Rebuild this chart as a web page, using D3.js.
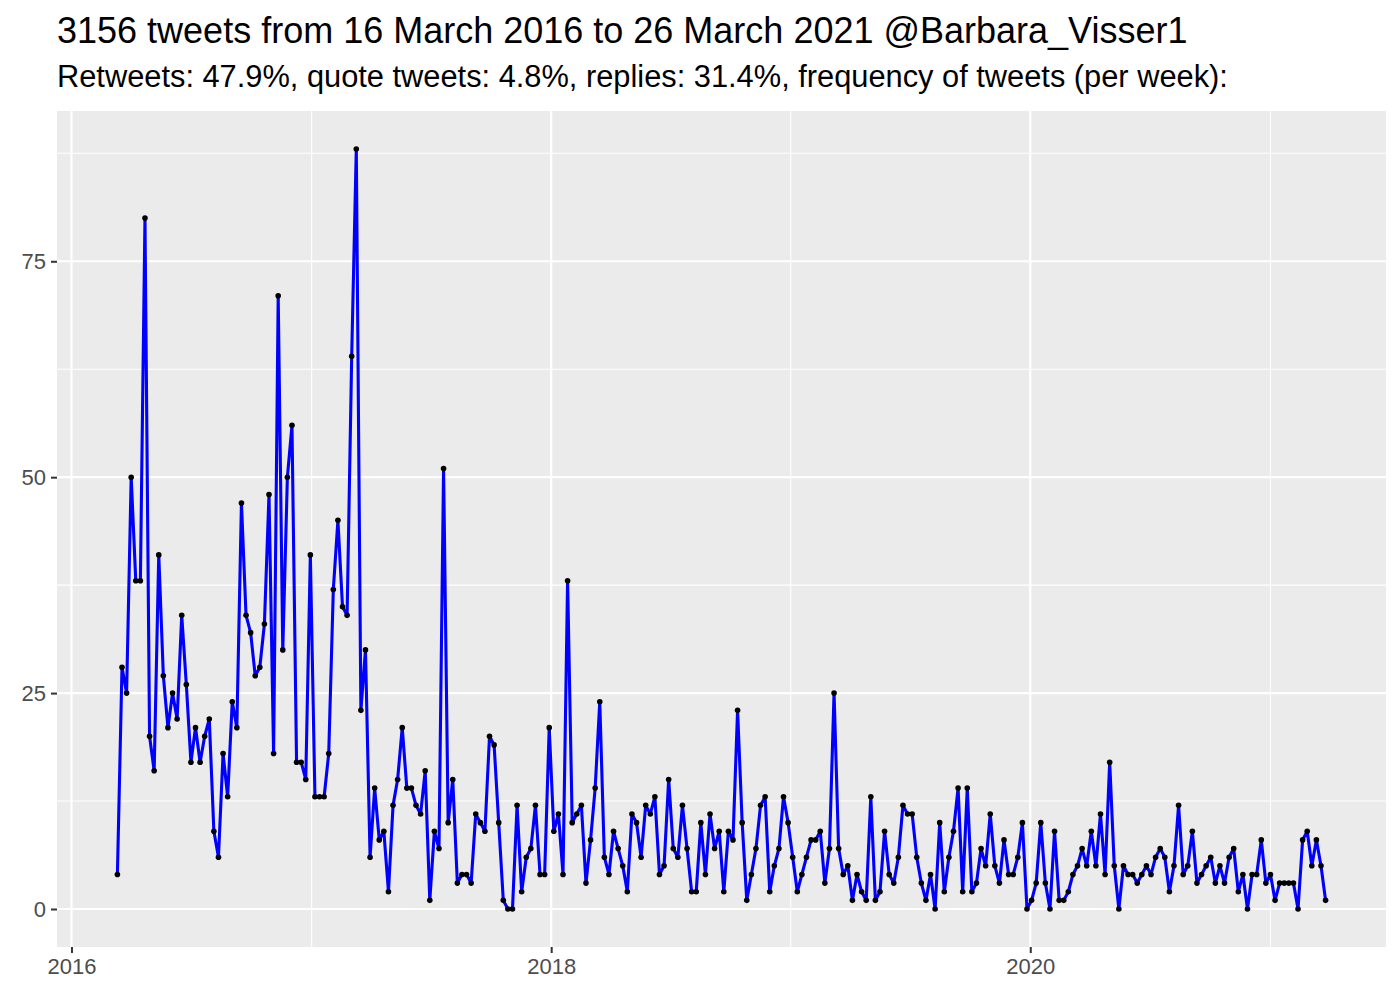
<!DOCTYPE html>
<html>
<head>
<meta charset="utf-8">
<script src="https://cdn.jsdelivr.net/npm/d3@7"></script>
<style>
  html, body { margin: 0; padding: 0; background: #ffffff; }
  svg { display: block; }
  text { font-family: "Liberation Sans", Arial, Helvetica, sans-serif; }
</style>
</head>
<body>
<svg id="chart" width="1400" height="1000"></svg>
<script>
// ---- data ----
const titleText = "3156 tweets from 16 March 2016 to 26 March 2021 @Barbara_Visser1";
const subtitleText = "Retweets: 47.9%, quote tweets: 4.8%, replies: 31.4%, frequency of tweets (per week):";

// first weekly bin and bin length in days
const firstWeek = "2016-03-11";
const binDays = 7;

// tweets per week (264 weekly bins)
const weeklyCounts = [
  4,28,25,50,38,38,80,20,16,41,
  27,21,25,22,34,26,17,21,17,20,
  22,9,6,18,13,24,21,47,34,32,
  27,28,33,48,18,71,30,50,56,17,
  17,15,41,13,13,13,18,37,45,35,
  34,64,88,23,30,6,14,8,9,2,
  12,15,21,14,14,12,11,16,1,9,
  7,51,10,15,3,4,4,3,11,10,
  9,20,19,10,1,0,0,12,2,6,
  7,12,4,4,21,9,11,4,38,10,
  11,12,3,8,14,24,6,4,9,7,
  5,2,11,10,6,12,11,13,4,5,
  15,7,6,12,7,2,2,10,4,11,
  7,9,2,9,8,23,10,1,4,7,
  12,13,2,5,7,13,10,6,2,4,
  6,8,8,9,3,7,25,7,4,5,
  1,4,2,1,13,1,2,9,4,3,
  6,12,11,11,6,3,1,4,0,10,
  2,6,9,14,2,14,2,3,7,5,
  11,5,3,8,4,4,6,10,0,1,
  3,10,3,0,9,1,1,2,4,5,
  7,5,9,5,11,4,17,5,0,5,
  4,4,3,4,5,4,6,7,6,2,
  5,12,4,5,9,3,4,5,6,3,
  5,3,6,7,2,4,0,4,4,8,
  3,4,1,3,3,3,3,0,8,9,
  5,8,5,1
];

const yMajorTicks = [0, 25, 50, 75];
const yMinorTicks = [12.5, 37.5, 62.5, 87.5];
const xMajorYears = [2016, 2018, 2020];
const xMinorYears = [2017, 2019, 2021];

// ---- build table ----
const start = d3.utcParse("%Y-%m-%d")(firstWeek);
const data = weeklyCounts.map((v, i) => ({ date: d3.utcDay.offset(start, i * binDays), n: v }));

// ---- layout ----
const panel = { left: 57, right: 1386, top: 111, bottom: 947 };
const svg = d3.select("#chart");

function expand(ext, f) { const d = ext[1] - ext[0]; return [ext[0] - d * f, ext[1] + d * f]; }

const xExt = d3.extent(data, d => +d.date);
const xDom = expand(xExt, 0.05).map(t => new Date(t));
const x = d3.scaleUtc().domain(xDom).range([panel.left, panel.right]);

const yExt = [0, d3.max(data, d => d.n)];
const y = d3.scaleLinear().domain(expand(yExt, 0.05)).range([panel.bottom, panel.top]);

const yearDate = yr => new Date(Date.UTC(yr, 0, 1));

// panel background
svg.append("rect")
  .attr("x", panel.left).attr("y", panel.top)
  .attr("width", panel.right - panel.left).attr("height", panel.bottom - panel.top)
  .attr("fill", "#ebebeb");

const grid = svg.append("g");
// minor grid
grid.selectAll("line.ymin").data(yMinorTicks).join("line")
  .attr("x1", panel.left).attr("x2", panel.right)
  .attr("y1", d => y(d)).attr("y2", d => y(d))
  .attr("stroke", "#ffffff").attr("stroke-width", 1.1);
grid.selectAll("line.xmin").data(xMinorYears).join("line")
  .attr("y1", panel.top).attr("y2", panel.bottom)
  .attr("x1", d => x(yearDate(d))).attr("x2", d => x(yearDate(d)))
  .attr("stroke", "#ffffff").attr("stroke-width", 1.1);
// major grid
grid.selectAll("line.ymaj").data(yMajorTicks).join("line")
  .attr("x1", panel.left).attr("x2", panel.right)
  .attr("y1", d => y(d)).attr("y2", d => y(d))
  .attr("stroke", "#ffffff").attr("stroke-width", 2.2);
grid.selectAll("line.xmaj").data(xMajorYears).join("line")
  .attr("y1", panel.top).attr("y2", panel.bottom)
  .attr("x1", d => x(yearDate(d))).attr("x2", d => x(yearDate(d)))
  .attr("stroke", "#ffffff").attr("stroke-width", 2.2);

// axes
const yAxis = d3.axisLeft(y).tickValues(yMajorTicks).tickSize(6).tickPadding(5).tickFormat(d3.format("d"));
const gy = svg.append("g").attr("transform", `translate(${panel.left},0)`).call(yAxis);
gy.select(".domain").remove();
gy.selectAll(".tick line").attr("stroke", "#333333").attr("stroke-width", 2);
gy.selectAll(".tick text").attr("fill", "#4d4d4d").style("font-size", "22px")
  .style("font-family", "'Liberation Sans', Arial, sans-serif");

const xAxis = d3.axisBottom(x).tickValues(xMajorYears.map(yearDate)).tickSize(6).tickPadding(5)
  .tickFormat(d3.utcFormat("%Y"));
const gx = svg.append("g").attr("transform", `translate(0,${panel.bottom})`).call(xAxis);
gx.select(".domain").remove();
gx.selectAll(".tick line").attr("stroke", "#333333").attr("stroke-width", 2);
gx.selectAll(".tick text").attr("fill", "#4d4d4d").style("font-size", "22px")
  .style("font-family", "'Liberation Sans', Arial, sans-serif");

// line
const line = d3.line().x(d => x(d.date)).y(d => y(d.n));
svg.append("path").datum(data)
  .attr("d", line)
  .attr("fill", "none")
  .attr("stroke", "#0000ff")
  .attr("stroke-width", 3.1)
  .attr("stroke-linejoin", "round");

// points
svg.append("g").selectAll("circle").data(data).join("circle")
  .attr("cx", d => x(d.date)).attr("cy", d => y(d.n))
  .attr("r", 2.8).attr("fill", "#000000");

// titles
svg.append("text").attr("x", 57).attr("y", 43)
  .style("font-size", "36px").attr("fill", "#000000").text(titleText);
svg.append("text").attr("x", 57).attr("y", 87)
  .style("font-size", "30.8px").attr("fill", "#000000").text(subtitleText);
</script>
</body>
</html>
